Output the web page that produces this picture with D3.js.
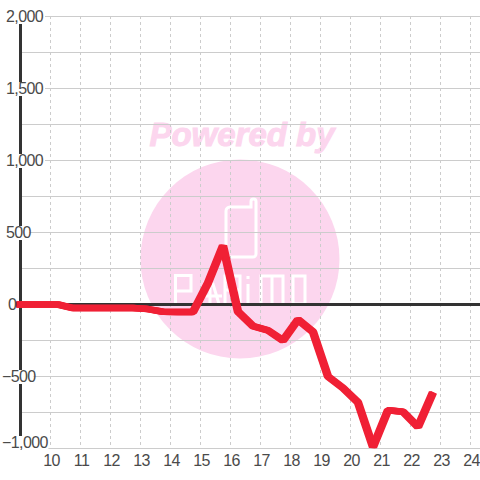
<!DOCTYPE html>
<html><head><meta charset="utf-8">
<script src="https://cdnjs.cloudflare.com/ajax/libs/d3/7.8.5/d3.min.js"></script>
<style>html,body{margin:0;padding:0;background:#fff}svg{display:block}text{font-family:"Liberation Sans",sans-serif}</style>
</head><body><svg id="c" width="480" height="480"></svg>
<script>
const hours=[8.88,9.25,9.75,10.25,10.75,11.25,11.75,12.25,12.75,13.25,13.75,14.25,14.75,15.25,15.75,16.25,16.75,17.25,17.75,18.25,18.75,19.25,19.75,20.25,20.75,21.25,21.75,22.25,22.75];
const values=[0,0,0,0,-25,-25,-25,-25,-25,-32,-50,-52,-52,150,408,-50,-150,-180,-250,-105,-190,-500,-580,-680,-990,-735,-745,-850,-610];
const xTicks=[10,11,12,13,14,15,16,17,18,19,20,21,22,23,24];
const yLabels=[2000,1500,1000,500,0,-500,-1000];
const yGrid=[2000,1750,1500,1250,1000,750,500,250,-250,-500,-750,-1000];
const logoLetters=[
 'M175.5 304V275.5H191V291H175.5',
 'M201 304L207 284H213L219 304M197 296H222M210 276V304',
 'M225 304V276H240V304M225 290H240',
 'M248 276V279M248 284V304',
 'M261 304V276H283V304M272 276V304',
 'M293 276H305V304H293Z'];
const svg=d3.select('#c');
const x=d3.scaleLinear().domain([10,24]).range([50.5,470.5]);
const y=d3.scaleLinear().domain([2000,-1000]).range([16.5,448.5]);
const fmt=d3.format(',');
const wm=svg.append('g');
wm.append('circle').attr('cx',240).attr('cy',259).attr('r',99.5).attr('fill','#fcd6ee');
wm.append('text').attr('x',242).attr('y',146).attr('text-anchor','middle').attr('font-size',33).attr('font-weight','bold').attr('font-style','italic').attr('fill','#fcd6ee').attr('stroke','#fcd6ee').attr('stroke-width',1).text('Powered by');
wm.append('path').attr('d','M230 207H251V201.5a2.5 2.5 0 0 1 5 0V254a3 3 0 0 1-3 3H229a3 3 0 0 1-3-3V211a4 4 0 0 1 4-4Z').attr('fill','none').attr('stroke','#fff').attr('stroke-width',3);
wm.append('g').selectAll('path').data(logoLetters).join('path').attr('d',d=>d).attr('fill','none').attr('stroke','#fff').attr('stroke-width',3);
svg.append('g').selectAll('line').data(xTicks).join('line').attr('x1',d=>x(d)).attr('x2',d=>x(d)).attr('y1',16).attr('y2',448).attr('stroke','#cccccc').attr('stroke-dasharray','3 3');
svg.append('g').selectAll('line').data(yGrid).join('line').attr('x1',20).attr('x2',480).attr('y1',d=>y(d)).attr('y2',d=>y(d)).attr('stroke','#cccccc');
svg.append('line').attr('x1',20.5).attr('x2',20.5).attr('y1',16).attr('y2',448).attr('stroke','#333').attr('stroke-width',3);
svg.append('line').attr('x1',20).attr('x2',480).attr('y1',y(0)).attr('y2',y(0)).attr('stroke','#333').attr('stroke-width',3);
const line=d3.line().x((d,i)=>x(hours[i])).y(d=>y(d));
svg.append('g').selectAll('path').data([-1,0,1]).join('path').attr('transform',d=>`translate(${d},0)`).attr('d',line(values)).attr('fill','none').attr('stroke','#f02035').attr('stroke-width',6.5).attr('stroke-linejoin','bevel');
const base=d=>y(d)+(d===-1000?-0.5:5.5);
const yl=svg.append('g').selectAll('g').data(yLabels).join('g');
yl.append('rect').attr('x',d=>d<0?2:(d===0?7:5)).attr('y',d=>base(d)-12).attr('width',d=>fmt(d).length*(d<0?7.4:7.6)+(d===0?1:2)).attr('height',14).attr('fill','#fff');
yl.append('text').attr('x',d=>d<0?2:(d===0?8:6)).attr('y',base).attr('font-size',16).attr('letter-spacing',-0.6).attr('fill','#4a4a4a').text(d=>fmt(d));
svg.append('g').selectAll('text').data(xTicks).join('text').attr('x',d=>x(d)+1).attr('y',466).attr('text-anchor','middle').attr('font-size',16).attr('letter-spacing',-0.6).attr('fill','#4a4a4a').text(d=>d);
</script></body></html>
